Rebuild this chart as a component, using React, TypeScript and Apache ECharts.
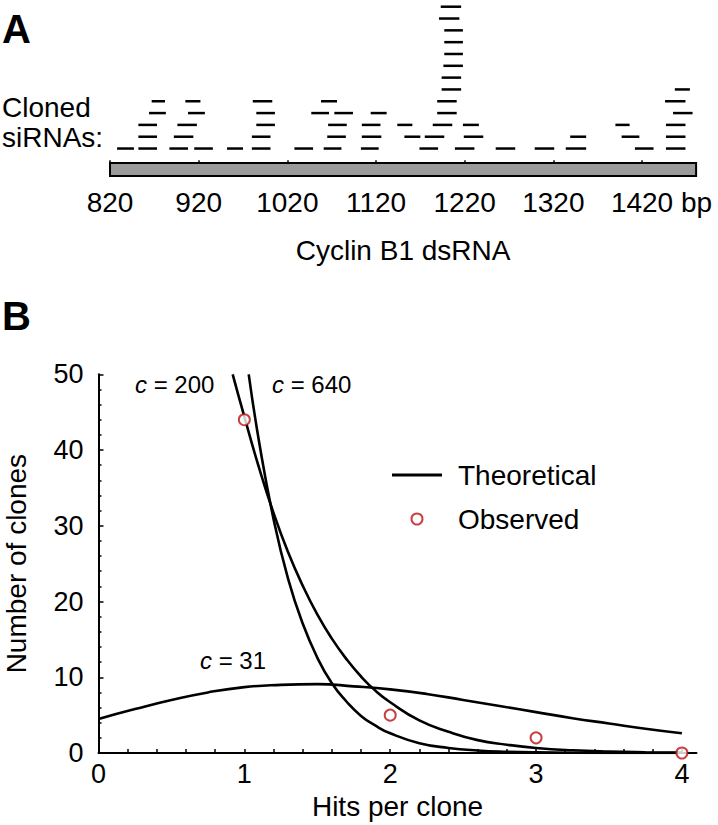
import React, { useEffect, useRef } from "react";
import * as echarts from "echarts";

const FONT = "'Liberation Sans', Arial, Helvetica, sans-serif";

// Panel A: sequence axis (bp)
const aTicks = [820, 920, 1020, 1120, 1220, 1320, 1420];
const dsRnaSpan = [820, 1481];

// Cloned siRNAs: [start bp, end bp, stack level]
const siRNAs: number[][] = [
  [828, 847, 1], [852, 873, 1], [887, 908, 1], [915, 936, 1], [952, 970, 1], [980, 1001, 1],
  [1028, 1049, 1], [1061, 1081, 1], [1103, 1123, 1], [1169, 1190, 1], [1209, 1231, 1],
  [1255, 1277, 1], [1299, 1321, 1], [1334, 1357, 1], [1412, 1433, 1], [1447, 1469, 1],
  [852, 873, 2], [892, 914, 2], [980, 1001, 2], [1065, 1086, 2], [1104, 1126, 2], [1152, 1170, 2],
  [1175, 1197, 2], [1219, 1241, 2], [1339, 1357, 2], [1397, 1417, 2], [1447, 1469, 2],
  [852, 873, 3], [896, 918, 3], [985, 1006, 3], [1066, 1087, 3], [1104, 1125, 3], [1144, 1161, 3],
  [1184, 1206, 3], [1218, 1236, 3], [1390, 1406, 3], [1447, 1469, 3],
  [864, 883, 4], [908, 927, 4], [985, 1006, 4], [1047, 1067, 4], [1073, 1094, 4], [1114, 1132, 4],
  [1189, 1211, 4], [1455, 1477, 4],
  [867, 882, 5], [905, 922, 5], [981, 1003, 5], [1058, 1076, 5], [1189, 1211, 5], [1446, 1469, 5],
  [1194, 1216, 6], [1457, 1474, 6],
  [1194, 1216, 7],
  [1196, 1218, 8],
  [1197, 1218, 9],
  [1197, 1218, 10],
  [1197, 1218, 11],
  [1191, 1214, 12],
  [1193, 1216, 13],
];

// Panel B: theoretical curves
const c31X = [0, 0.25, 0.5, 0.75, 1, 1.25, 1.5, 1.75, 2, 2.25, 2.5, 2.75, 3, 3.25, 3.5, 3.75, 4];
const c31Y = [4.5, 5.8, 7.0, 8.0, 8.7, 9.0, 9.1, 8.8, 8.4, 7.8, 7.0, 6.2, 5.4, 4.6, 3.9, 3.2, 2.6];

const c200X = [0.92, 1, 1.1, 1.2, 1.3, 1.4, 1.5, 1.6, 1.7, 1.8, 1.9, 2, 2.2, 2.4, 2.6, 2.8, 3, 3.25, 3.5, 3.75, 4];
const c200Y = [50, 44.4, 37.7, 31.7, 26.5, 22.1, 18.3, 15.1, 12.4, 10.1, 8.2, 6.7, 4.3, 2.8, 1.7, 1.1, 0.67, 0.36, 0.19, 0.1, 0.05];

const c640X = [1.03, 1.1, 1.2, 1.3, 1.4, 1.5, 1.6, 1.7, 1.8, 1.9, 2, 2.2, 2.4, 2.6, 2.8, 3, 3.5, 4];
const c640Y = [50, 41.2, 30.9, 23.0, 17.1, 12.6, 9.2, 6.8, 4.9, 3.6, 2.6, 1.3, 0.67, 0.33, 0.16, 0.08, 0.01, 0];

const observedX = [1, 2, 3, 4];
const observedY = [44, 5, 2, 0];

const bXLabels = [0, 1, 2, 3, 4];
const bXTicks = [0, 0.2, 0.4, 0.6, 0.8, 1, 1.2, 1.4, 1.6, 1.8, 2, 2.2, 2.4, 2.6, 2.8, 3, 3.2, 3.4, 3.6, 3.8, 4];

const zip = (xs: number[], ys: number[]) => xs.map((x, i) => [x, ys[i]]);

const A_YMIN = -1.4;
const RED = "#bb1111";

export default function App() {
  const ref = useRef<HTMLDivElement>(null);
  useEffect(() => {
    const chart = echarts.init(ref.current!, null, { renderer: "svg" });
    const black = "#000";
    const cLabel = (text: string) => ({
      text,
      font: `24px ${FONT}`,
      fill: black,
      rich: { i: { fontStyle: "italic", fontSize: 24, fontFamily: FONT } },
    });
    const option: any = {
      animation: false,
      backgroundColor: "#fff",
      textStyle: { fontFamily: FONT, color: black },
      grid: [
        { left: 110, right: 21.9, top: 0.8, bottom: 648.1, outerBoundsMode: "none" },
        { left: 98.5, right: 21.5, top: 374.3, bottom: 72, outerBoundsMode: "none" },
      ],
      xAxis: [
        {
          gridIndex: 0,
          type: "value",
          min: dsRnaSpan[0],
          max: dsRnaSpan[1],
          axisLine: { show: false },
          splitLine: { show: false },
          axisTick: { show: true, customValues: aTicks, length: 5, lineStyle: { color: black, width: 1.5 } },
          axisLabel: {
            customValues: aTicks,
            fontSize: 28,
            color: black,
            fontFamily: FONT,
            margin: 12,
            formatter: (v: number) => (v === 1420 ? "{pad|}1420 bp" : String(v)),
            rich: { pad: { width: 39 } },
          },
          name: "Cyclin B1 dsRNA",
          nameLocation: "middle",
          nameGap: 60,
          nameTextStyle: { fontSize: 28, color: black, fontFamily: FONT },
        },
        {
          gridIndex: 1,
          type: "value",
          min: 0,
          max: 4.1,
          axisLine: { show: true, lineStyle: { color: black, width: 2 } },
          splitLine: { show: false },
          axisTick: { show: true, inside: true, customValues: bXTicks, length: 4, lineStyle: { color: black, width: 1.5 } },
          axisLabel: { customValues: bXLabels, fontSize: 27, color: black, fontFamily: FONT, margin: 7 },
          name: "Hits per clone",
          nameLocation: "middle",
          nameGap: 39,
          nameTextStyle: { fontSize: 28, color: black, fontFamily: FONT },
        },
      ],
      yAxis: [
        { gridIndex: 0, type: "value", min: A_YMIN, max: 13.5, show: false },
        {
          gridIndex: 1,
          type: "value",
          min: 0,
          max: 50,
          interval: 10,
          axisLine: { show: true, lineStyle: { color: black, width: 2 } },
          splitLine: { show: false },
          axisTick: { show: true, inside: true, length: 5, lineStyle: { color: black, width: 1.5 } },
          minorTick: { show: true, splitNumber: 5, length: 3, lineStyle: { color: black, width: 1.5 } },
          minorSplitLine: { show: false },
          axisLabel: { fontSize: 27, color: black, fontFamily: FONT, margin: 15 },
          name: "Number of clones",
          nameLocation: "middle",
          nameGap: 68,
          nameTextStyle: { fontSize: 28, color: black, fontFamily: FONT },
        },
      ],
      legend: {
        orient: "vertical",
        left: 387,
        top: 456,
        itemWidth: 50,
        itemHeight: 11,
        itemGap: 16,
        selectedMode: false,
        textStyle: { fontSize: 28, color: black, fontFamily: FONT, padding: [0, 0, 0, 11] },
        data: [
          { name: "Theoretical", icon: "path://M0 0H50V3H0Z", itemStyle: { color: black, borderWidth: 0 } },
          { name: "Observed", icon: "circle", itemStyle: { color: "#fff", borderColor: RED, borderWidth: 2 } },
        ],
      },
      graphic: [
        { type: "text", left: 2, top: 9, style: { text: "A", font: `bold 40px ${FONT}`, fill: black } },
        { type: "text", left: 2, top: 296, style: { text: "B", font: `bold 40px ${FONT}`, fill: black } },
        { type: "text", left: 2, top: 93, style: { text: "Cloned", font: `28px ${FONT}`, fill: black } },
        { type: "text", left: 2, top: 123, style: { text: "siRNAs:", font: `28px ${FONT}`, fill: black } },
        { type: "text", left: 135, top: 372, style: cLabel("{i|c} = 200") },
        { type: "text", left: 272, top: 372, style: cLabel("{i|c} = 640") },
        { type: "text", left: 200, top: 648, style: cLabel("{i|c} = 31") },
      ],
      series: [
        {
          type: "custom",
          name: "dsRNA",
          xAxisIndex: 0,
          yAxisIndex: 0,
          data: [[dsRnaSpan[0], dsRnaSpan[1]]],
          renderItem: (_p: any, api: any) => {
            const s = api.coord([api.value(0), A_YMIN]);
            const e = api.coord([api.value(1), A_YMIN]);
            return {
              type: "rect",
              shape: { x: s[0], y: s[1] - 14, width: e[0] - s[0], height: 13 },
              style: { fill: "#9a9a9a", stroke: black, lineWidth: 2 },
            };
          },
          silent: true,
        },
        {
          type: "custom",
          name: "siRNA",
          xAxisIndex: 0,
          yAxisIndex: 0,
          data: siRNAs,
          renderItem: (_p: any, api: any) => {
            const s = api.coord([api.value(0), api.value(2)]);
            const e = api.coord([api.value(1), api.value(2)]);
            return {
              type: "line",
              shape: { x1: s[0], y1: s[1], x2: e[0], y2: e[1] },
              style: { stroke: black, lineWidth: 2.5 },
            };
          },
          silent: true,
        },
        ...[zip(c31X, c31Y), zip(c200X, c200Y), zip(c640X, c640Y)].map((d) => ({
          type: "line",
          name: "Theoretical",
          xAxisIndex: 1,
          yAxisIndex: 1,
          data: d,
          symbol: "none",
          showSymbol: false,
          smooth: 0.5,
          color: black,
          lineStyle: { color: black, width: 2.6 },
          silent: true,
        })),
        {
          type: "scatter",
          name: "Observed",
          xAxisIndex: 1,
          yAxisIndex: 1,
          data: zip(observedX, observedY),
          symbol: "circle",
          symbolSize: 11,
          clip: false,
          z: 10,
          itemStyle: { color: "#fff", borderColor: RED, borderWidth: 2 },
          silent: true,
        },
      ],
    };
    chart.setOption(option);
    return () => chart.dispose();
  }, []);
  return (
    <div
      ref={ref}
      style={{ position: "fixed", left: 0, top: 0, width: 718, height: 825, background: "#fff" }}
    />
  );
}
